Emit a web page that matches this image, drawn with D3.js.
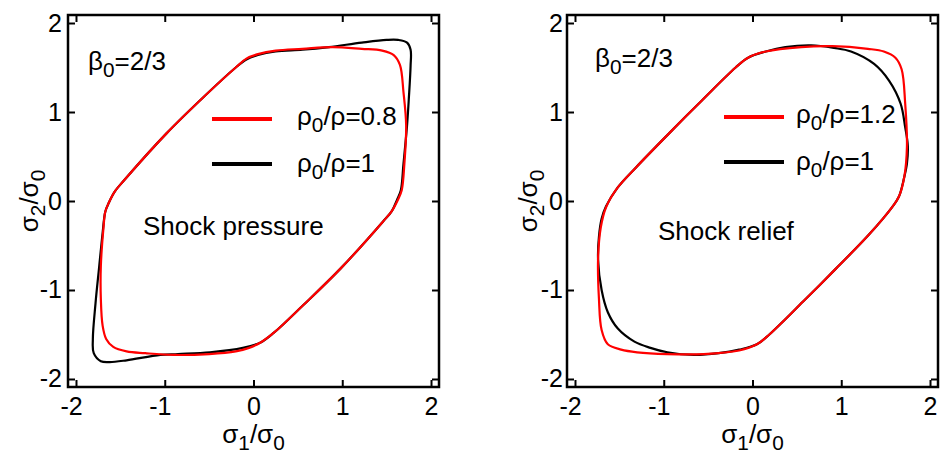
<!DOCTYPE html>
<html>
<head>
<meta charset="utf-8">
<script src="https://cdn.jsdelivr.net/npm/d3@7"></script>
<style>
  body { margin: 0; background: #fff; }
  text { font-family: "Liberation Sans", Arial, sans-serif; fill: #000; }
</style>
</head>
<body>
<svg id="chart" width="940" height="452"></svg>
<script>
var tickValues = [-2, -1, 0, 1, 2];
var axisDomain = [-2.09, 2.09];

// left panel: shock pressure, rho0/rho = 0.8 (red) and 1 (black)
var pressureRedS1 = [-0.20,-0.08,0.05,0.25,0.55,0.89,1.22,1.45,1.58,1.65,1.69,1.72,1.70,1.67,1.63,1.56,1.46,0.98,0.55,0.23,0.08,-0.05,-0.20,-0.50,-0.90,-1.22,-1.43,-1.58,-1.66,-1.70,-1.72,-1.72,-1.69,-1.67,-1.63,-1.56,-1.46,-0.98,-0.55];
var pressureRedS2 = [1.50,1.60,1.65,1.69,1.71,1.73,1.71,1.69,1.64,1.53,1.22,0.85,0.42,0.12,0.02,-0.11,-0.23,-0.76,-1.18,-1.48,-1.59,-1.65,-1.69,-1.72,-1.73,-1.71,-1.69,-1.64,-1.55,-1.40,-1.10,-0.73,-0.30,-0.12,-0.02,0.11,0.23,0.76,1.18];
var pressureBlackS1 = [-0.20,-0.08,0.05,0.25,0.55,0.85,1.22,1.50,1.63,1.73,1.77,1.77,1.75,1.73,1.69,1.66,1.62,1.56,1.46,0.98,0.55,0.23,0.08,-0.12,-0.49,-0.85,-1.05,-1.43,-1.62,-1.72,-1.80,-1.81,-1.78,-1.74,-1.70,-1.67,-1.63,-1.56,-1.46,-0.98,-0.55];
var pressureBlackS2 = [1.50,1.59,1.64,1.68,1.70,1.73,1.78,1.81,1.81,1.78,1.70,1.52,1.15,0.85,0.42,0.12,0.02,-0.11,-0.23,-0.76,-1.18,-1.48,-1.59,-1.65,-1.70,-1.72,-1.73,-1.79,-1.81,-1.80,-1.71,-1.55,-1.15,-0.75,-0.36,-0.12,-0.02,0.11,0.23,0.76,1.18];

// right panel: shock relief, rho0/rho = 1.2 (red) and 1 (black)
var reliefRedS1 = [-0.19,-0.05,0.15,0.55,0.90,1.30,1.48,1.61,1.68,1.72,1.74,1.71,1.65,1.58,1.31,0.94,0.57,0.19,0.05,-0.15,-0.55,-0.96,-1.30,-1.48,-1.63,-1.70,-1.73,-1.74,-1.71,-1.65,-1.52,-1.31,-0.94,-0.57];
var reliefRedS2 = [1.50,1.61,1.68,1.73,1.74,1.71,1.68,1.61,1.48,1.10,0.61,0.27,0.05,-0.06,-0.38,-0.76,-1.13,-1.50,-1.61,-1.68,-1.72,-1.72,-1.70,-1.67,-1.61,-1.45,-1.10,-0.65,-0.30,-0.07,0.15,0.38,0.76,1.13];
var reliefBlackS1 = [-0.19,-0.05,0.15,0.37,0.66,0.92,1.11,1.37,1.54,1.67,1.72,1.75,1.74,1.71,1.65,1.58,1.31,0.94,0.57,0.19,0.05,-0.15,-0.38,-0.66,-0.96,-1.15,-1.33,-1.52,-1.63,-1.70,-1.74,-1.73,-1.70,-1.65,-1.52,-1.31,-0.94,-0.57];
var reliefBlackS2 = [1.50,1.61,1.68,1.73,1.75,1.72,1.68,1.54,1.35,1.09,0.83,0.62,0.42,0.27,0.05,-0.06,-0.38,-0.76,-1.13,-1.50,-1.61,-1.67,-1.71,-1.73,-1.70,-1.65,-1.58,-1.43,-1.25,-1.00,-0.66,-0.40,-0.20,-0.06,0.15,0.38,0.76,1.13];

function zip(a, b) {
  return a.map(function(v, i) { return [v, b[i]]; });
}

var svg = d3.select("#chart");
svg.append("rect").attr("width", 940).attr("height", 452).attr("fill", "#fff");

// text with subscripts; parts = [[string, isSub], ...]
function richText(g, parts, size) {
  var t = g.append("text").attr("font-size", size);
  parts.forEach(function(p, i) {
    var s = t.append("tspan").text(p[0]);
    if (p[1]) s.attr("font-size", size * 0.8).attr("dy", size * 0.25);
    else if (i > 0 && parts[i - 1][1]) s.attr("dy", -size * 0.25);
  });
  return t;
}

var panels = [
  { left: 68, right: 439, labPad: 6, yTitleX: 38, title: "Shock pressure", titleX: 143, titleY: 235,
    betaX: 88, betaY: 70, legX: 212, legTextX: 297, legY: [119, 164], legTextY: [125, 172],
    redLabel: "=0.8", curves: [[pressureBlackS1, pressureBlackS2, "#000"], [pressureRedS1, pressureRedS2, "#f00"]] },
  { left: 567, right: 938, labPad: 4, yTitleX: 537, title: "Shock relief", titleX: 658, titleY: 240,
    betaX: 595, betaY: 67, legX: 724, legTextX: 796, legY: [117, 162], legTextY: [123, 170],
    redLabel: "=1.2", curves: [[reliefBlackS1, reliefBlackS2, "#000"], [reliefRedS1, reliefRedS2, "#f00"]] }
];

var plotTop = 15, plotBottom = 387, fs = 26, tickFs = 25;

panels.forEach(function(p) {
  var x = d3.scaleLinear().domain(axisDomain).range([p.left, p.right]);
  var y = d3.scaleLinear().domain(axisDomain).range([plotBottom, plotTop]);
  var g = svg.append("g");

  var line = d3.line()
    .x(function(d) { return x(d[0]); })
    .y(function(d) { return y(d[1]); })
    .curve(d3.curveCatmullRomClosed.alpha(0.5));

  p.curves.forEach(function(c) {
    g.append("path")
      .attr("d", line(zip(c[0], c[1])))
      .attr("fill", "none")
      .attr("stroke", c[2])
      .attr("stroke-width", 2.2);
  });

  var fmt = function(d) { return d; };
  var xb = g.append("g").attr("transform", "translate(0," + plotBottom + ")")
    .call(d3.axisBottom(x).tickValues(tickValues).tickFormat(fmt).tickSize(-7).tickSizeOuter(0).tickPadding(10));
  xb.selectAll("text").attr("dx", function(d) { return d < 0 ? -5 : 0; });
  g.append("g").attr("transform", "translate(0," + plotTop + ")")
    .call(d3.axisTop(x).tickValues(tickValues).tickFormat("").tickSize(-7).tickSizeOuter(0));
  g.append("g").attr("transform", "translate(" + p.left + ",0)")
    .call(d3.axisLeft(y).tickValues(tickValues).tickFormat(fmt).tickSize(-7).tickSizeOuter(0).tickPadding(p.labPad));
  g.append("g").attr("transform", "translate(" + p.right + ",0)")
    .call(d3.axisRight(y).tickValues(tickValues).tickFormat("").tickSize(-7).tickSizeOuter(0));

  g.selectAll(".domain").remove();
  g.selectAll(".tick line").attr("stroke", "#000").attr("stroke-width", 2);
  g.selectAll(".tick text").attr("font-size", tickFs).attr("font-family", "Liberation Sans, Arial, sans-serif").attr("fill", "#000");

  g.append("rect")
    .attr("x", p.left).attr("y", plotTop)
    .attr("width", p.right - p.left).attr("height", plotBottom - plotTop)
    .attr("fill", "none").attr("stroke", "#000").attr("stroke-width", 2.5);

  // axis titles
  richText(g, [["σ", 0], ["1", 1], ["/σ", 0], ["0", 1]], fs)
    .attr("text-anchor", "middle")
    .attr("x", x(0)).attr("y", 443);
  richText(g, [["σ", 0], ["2", 1], ["/σ", 0], ["0", 1]], fs)
    .attr("text-anchor", "middle")
    .attr("transform", "translate(" + p.yTitleX + "," + ((plotTop + plotBottom) / 2) + ") rotate(-90)");

  richText(g, [["β", 0], ["0", 1], ["=2/3", 0]], fs).attr("x", p.betaX).attr("y", p.betaY);
  g.append("text").attr("x", p.titleX).attr("y", p.titleY).attr("font-size", fs).text(p.title);

  // legend
  var legend = [["#f00", p.redLabel], ["#000", "=1"]];
  legend.forEach(function(l, i) {
    g.append("line")
      .attr("x1", p.legX).attr("x2", p.legX + 60)
      .attr("y1", p.legY[i]).attr("y2", p.legY[i])
      .attr("stroke", l[0]).attr("stroke-width", 4);
    richText(g, [["ρ", 0], ["0", 1], ["/ρ" + l[1], 0]], fs)
      .attr("x", p.legTextX).attr("y", p.legTextY[i]);
  });
});
</script>
</body>
</html>
